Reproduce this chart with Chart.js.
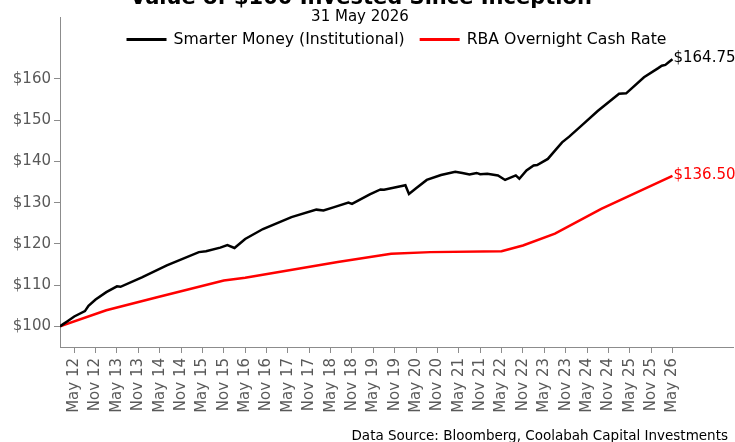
<!DOCTYPE html>
<html>
<head>
<meta charset="utf-8">
<script src="https://cdn.jsdelivr.net/npm/chart.js@4.4.1/dist/chart.umd.min.js"></script>
<style>
  html, body { margin: 0; padding: 0; background: #ffffff; }
  #wrap { width: 735px; height: 442px; position: relative; }
</style>
</head>
<body>
<div id="wrap"><canvas id="c" width="735" height="442"></canvas></div>
<script>
// ---------------- data ----------------
const titleText = 'Value of $100 Invested Since Inception';
const subtitleText = '31 May 2026';
const sourceText = 'Data Source: Bloomberg, Coolabah Capital Investments';

const seriesNames = ['Smarter Money (Institutional)', 'RBA Overnight Cash Rate'];

const smarterDates = ['2012-01','2012-02','2012-03','2012-05','2012-08','2012-09','2012-11','2013-02','2013-05','2013-06',
  '2013-12','2014-07','2015-04','2015-06','2015-10','2015-12','2016-02','2016-05','2016-10','2017-06',
  '2018-01','2018-03','2018-06','2018-10','2018-11','2019-04','2019-07','2019-08','2020-02','2020-03',
  '2020-05','2020-08','2020-12','2021-04','2021-06','2021-08','2021-10','2021-11','2022-01','2022-04',
  '2022-06','2022-09','2022-10','2022-12','2023-02','2023-03','2023-06','2023-08','2023-10','2023-12',
  '2024-04','2024-08','2025-02','2025-04','2025-09','2026-01','2026-02','2026-03','2026-04','2026-05'];
const smarterValues = [100.0,100.6,101.2,102.4,103.7,105.0,106.5,108.3,109.7,109.6,
  111.9,114.8,118.0,118.2,119.1,119.7,119.0,121.2,123.6,126.5,
  128.3,128.1,128.9,130.0,129.7,132.0,133.2,133.1,134.2,132.1,
  133.5,135.5,136.7,137.5,137.2,136.8,137.2,136.9,137.0,136.6,
  135.5,136.6,135.8,137.8,139.0,139.1,140.6,142.6,144.6,146.0,
  149.1,152.2,156.4,156.5,160.4,162.6,163.2,163.4,164.1,164.75];

const rbaDates = ['2012-01','2013-02','2014-04','2015-11','2016-05','2018-07','2019-10','2020-09','2022-05','2022-11','2023-08','2024-09','2026-05'];
const rbaValues = [100.0,103.9,107.0,111.1,111.8,115.6,117.6,118.0,118.2,119.6,122.5,128.5,136.5];

const tickLabels = ['May 12','Nov 12','May 13','Nov 13','May 14','Nov 14','May 15','Nov 15','May 16','Nov 16',
  'May 17','Nov 17','May 18','Nov 18','May 19','Nov 19','May 20','Nov 20','May 21','Nov 21',
  'May 22','Nov 22','May 23','Nov 23','May 24','Nov 24','May 25','Nov 25','May 26'];
const yTickValues = [100,110,120,130,140,150,160];

// ---------------- helpers ----------------
const MONTHS = ['Jan','Feb','Mar','Apr','May','Jun','Jul','Aug','Sep','Oct','Nov','Dec'];
const BASE_YEAR = 2012, BASE_MONTH = 5; // month index 0 = May 2012
function idxFromIso(s) { const [y, m] = s.split('-').map(Number); return (y - BASE_YEAR) * 12 + (m - BASE_MONTH); }
function idxFromLabel(s) { const [mn, yy] = s.split(' '); return (2000 + Number(yy) - BASE_YEAR) * 12 + (MONTHS.indexOf(mn) + 1 - BASE_MONTH); }
const tickMonths = tickLabels.map(idxFromLabel);
const labelByMonth = {}; tickLabels.forEach((l, i) => { labelByMonth[tickMonths[i]] = l; });

const FONT = 'DejaVu Sans';
Chart.defaults.font.family = FONT;
const AXIS = '#8c8c8c', TXT = '#595959';

const overlay = {
  id: 'overlay',
  afterDraw(chart) {
    const ctx = chart.ctx, area = chart.chartArea;
    ctx.save();
    ctx.fillStyle = '#000';
    ctx.textAlign = 'center';
    ctx.textBaseline = 'alphabetic';
    ctx.font = 'bold 21px "' + FONT + '"';
    ctx.fillText(titleText, 361, 3.5);
    ctx.font = '15px "' + FONT + '"';
    ctx.fillText(subtitleText, 360, 20.5);

    // legend
    const lf = '15.7px "' + FONT + '"';
    ctx.font = lf;
    const boxW = 40, gap = 7, itemGap = 15, ly = 39.5;
    const widths = chart.data.datasets.map(d => ctx.measureText(d.label).width);
    let total = 0; widths.forEach((w, i) => { total += boxW + gap + w + (i ? itemGap : 0); });
    let x = (area.left + area.right) / 2 - total / 2;
    chart.data.datasets.forEach((d, i) => {
      ctx.strokeStyle = d.borderColor; ctx.lineWidth = 3;
      ctx.beginPath(); ctx.moveTo(x, ly); ctx.lineTo(x + boxW, ly); ctx.stroke();
      ctx.fillStyle = '#000'; ctx.textAlign = 'left'; ctx.textBaseline = 'middle';
      ctx.fillText(d.label, x + boxW + gap, ly);
      x += boxW + gap + widths[i] + itemGap;
    });

    // end labels
    ctx.font = '15px "' + FONT + '"';
    chart.data.datasets.forEach((d, i) => {
      const meta = chart.getDatasetMeta(i);
      const pt = meta.data[meta.data.length - 1];
      const v = d.data[d.data.length - 1].y;
      ctx.fillStyle = d.borderColor; ctx.textAlign = 'left'; ctx.textBaseline = 'middle';
      ctx.fillText('$' + v.toFixed(2), pt.x + 1, pt.y - 1);
    });

    // source
    ctx.fillStyle = '#000';
    ctx.font = '13.5px "' + FONT + '"';
    ctx.textAlign = 'right'; ctx.textBaseline = 'alphabetic';
    ctx.fillText(sourceText, 728, 440);
    ctx.restore();
  }
};

new Chart(document.getElementById('c'), {
  type: 'line',
  data: {
    datasets: [
      { label: seriesNames[0], data: smarterDates.map((d, i) => ({ x: idxFromIso(d), y: smarterValues[i] })),
        borderColor: '#000000', borderWidth: 2.5, pointRadius: 0, tension: 0, fill: false },
      { label: seriesNames[1], data: rbaDates.map((d, i) => ({ x: idxFromIso(d), y: rbaValues[i] })),
        borderColor: '#ff0000', borderWidth: 2.5, pointRadius: 0, tension: 0, fill: false }
    ]
  },
  options: {
    responsive: false,
    devicePixelRatio: 1,
    animation: false,
    layout: { padding: { top: 17, right: 2, left: 0, bottom: 0 } },
    plugins: { legend: { display: false }, title: { display: false }, tooltip: { enabled: false } },
    scales: {
      x: {
        type: 'linear', min: -4, max: 185,
        afterBuildTicks: s => { s.ticks = tickMonths.map(v => ({ value: v })); },
        afterFit: s => { s.height = 95; },
        ticks: { autoSkip: false, maxRotation: 90, minRotation: 90, padding: 5, color: TXT,
                 font: { size: 15 }, callback: v => labelByMonth[v] || '' },
        grid: { drawOnChartArea: false, drawTicks: true, tickLength: 6, color: AXIS },
        border: { display: true, color: AXIS, width: 1 }
      },
      y: {
        type: 'linear', min: 95, max: 175,
        afterBuildTicks: s => { s.ticks = yTickValues.map(v => ({ value: v })); },
        afterFit: s => { s.width = 60; },
        ticks: { padding: 3, color: TXT, font: { size: 15 }, callback: v => '$' + v },
        grid: { drawOnChartArea: false, drawTicks: true, tickLength: 6, color: AXIS },
        border: { display: true, color: AXIS, width: 1 }
      }
    }
  },
  plugins: [overlay]
});
</script>
</body>
</html>
